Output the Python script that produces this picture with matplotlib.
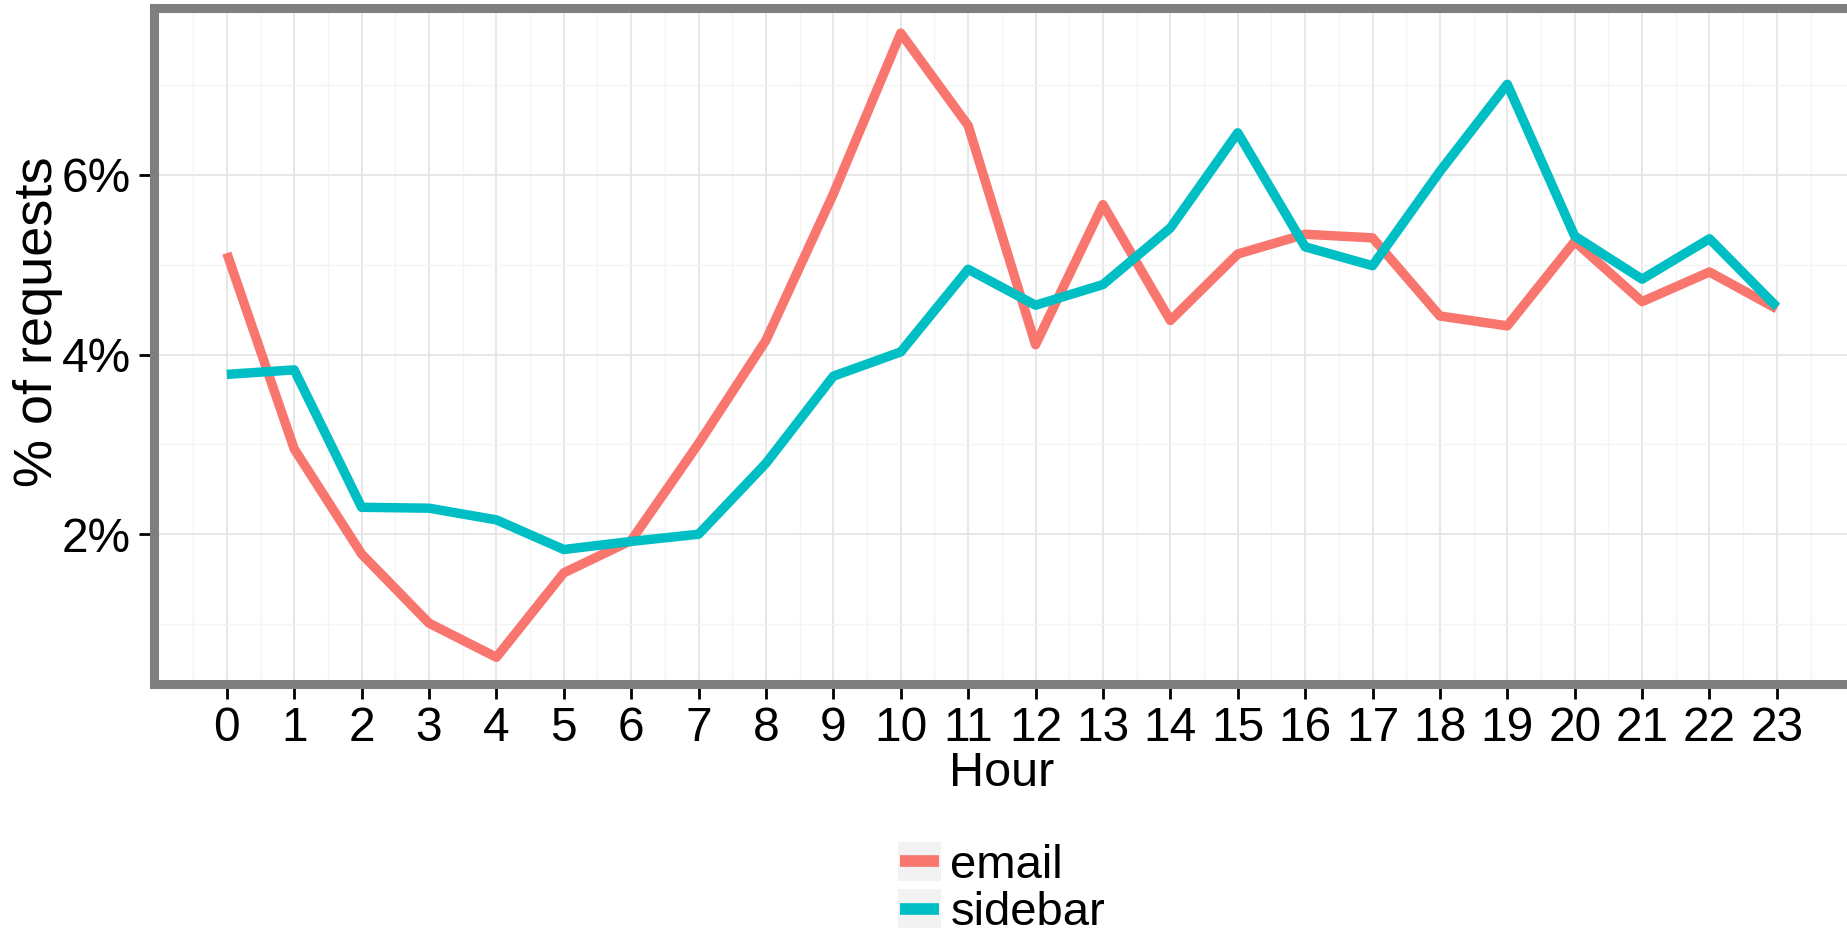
import matplotlib
matplotlib.use("Agg")
import matplotlib.pyplot as plt
from matplotlib.legend_handler import HandlerLine2D
from matplotlib.patches import Rectangle
from matplotlib.lines import Line2D
from matplotlib.ticker import FixedLocator, FuncFormatter

plt.rcParams['font.family'] = ['Liberation Sans', 'DejaVu Sans']

hours = list(range(24))
email = [5.13, 2.95, 1.78, 1.01, 0.63, 1.57, 1.93, 3.01, 4.16, 5.79, 7.58, 6.55,
         4.11, 5.67, 4.38, 5.12, 5.34, 5.30, 4.43, 4.32, 5.26, 4.59, 4.92, 4.51]
sidebar = [3.78, 3.83, 2.30, 2.29, 2.16, 1.83, 1.92, 2.00, 2.79, 3.76, 4.03, 4.95,
           4.55, 4.78, 5.41, 6.47, 5.20, 4.99, 6.04, 7.01, 5.32, 4.84, 5.29, 4.53]
series_names = ['email', 'sidebar']
series_colors = ['#F8766D', '#00BFC4']
y_ticks = [2, 4, 6]
y_minor = [1, 3, 5, 7]
x_limits = (-1.085, 24.07)
y_limits = (0.338, 7.856)

W, H = 1847, 934
fig = plt.figure(figsize=(W / 100, H / 100), dpi=100)
x0, x1 = 153.7, 1849
ytop, ybot = 8.3, 683.5
ax = fig.add_axes([x0 / W, 1 - ybot / H, (x1 - x0) / W, (ybot - ytop) / H])

for vals, name, col in zip([email, sidebar], series_names, series_colors):
    ax.plot(hours, vals, color=col, lw=6.8, label=name, solid_joinstyle='round',
            solid_capstyle='butt', zorder=3)

ax.set_xlim(*x_limits)
ax.set_ylim(*y_limits)

ax.xaxis.set_major_locator(FixedLocator(hours))
ax.xaxis.set_minor_locator(FixedLocator([h + 0.5 for h in range(-1, 24)]))
ax.yaxis.set_major_locator(FixedLocator(y_ticks))
ax.yaxis.set_minor_locator(FixedLocator(y_minor))
ax.yaxis.set_major_formatter(FuncFormatter(lambda v, p: f"{v:.0f}%"))

ax.grid(which='major', color='#e5e5e5', lw=1.3, zorder=0)
ax.grid(which='minor', color='#f4f4f4', lw=1.0, zorder=0)
ax.set_axisbelow(True)

for s in ax.spines.values():
    s.set_color('#7f7f7f')
    s.set_linewidth(6.5)
    s.set_zorder(4)

ax.tick_params(axis='both', which='major', direction='out', length=11, width=2.0,
               color='black', labelsize=34.5, labelcolor='black')
ax.tick_params(axis='x', which='major', pad=5.5)
ax.tick_params(axis='y', which='major', pad=5.3)
ax.tick_params(which='minor', length=0)

ax.set_xlabel('Hour', fontsize=35, labelpad=0)
ax.set_ylabel('% of requests', fontsize=39)
ax.yaxis.set_label_coords((63 - x0) / (x1 - x0), (ybot - 322) / (ybot - ytop))


class BoxLineHandler(HandlerLine2D):
    def create_artists(self, legend, orig_handle, xdescent, ydescent, width, height,
                       fontsize, trans):
        rect = Rectangle((-xdescent, -ydescent), width, height, facecolor='#f2f2f2',
                         edgecolor='none', transform=trans)
        yc = -ydescent + height / 2
        line = Line2D([-xdescent + 0.05 * width, -xdescent + 0.95 * width], [yc, yc],
                      color=orig_handle.get_color(), lw=8.4, solid_capstyle='butt',
                      transform=trans)
        return [rect, line]


handles, labels = ax.get_legend_handles_labels()
leg = fig.legend(handles, labels, loc='upper left',
                 bbox_to_anchor=(898 / W, 1 - 842 / H), frameon=False,
                 fontsize=34, handlelength=0.91, handleheight=0.89,
                 handletextpad=0.2, labelspacing=0.03, borderpad=0, borderaxespad=0,
                 handler_map={Line2D: BoxLineHandler()})

fig.savefig('out.png', dpi=100)
